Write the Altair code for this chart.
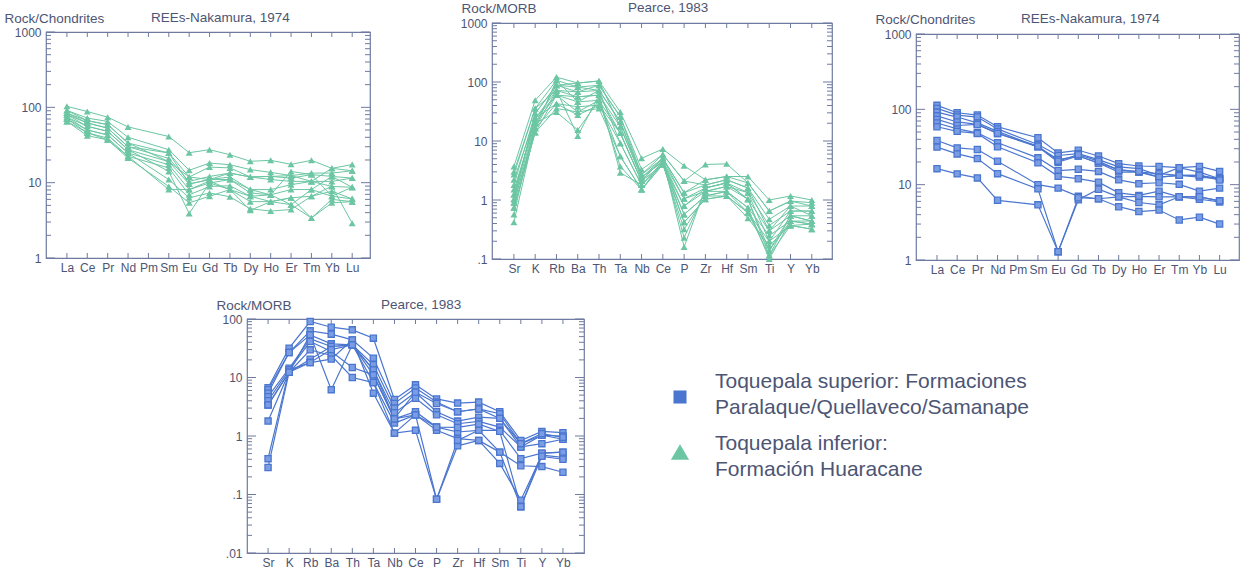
import altair as alt
import pandas as pd

FONT = "Liberation Sans"
TEXT = "#4d5574"
FRAME = "#6f7aa0"
GREEN = "#6cc6a3"
BLUE = "#4b76cf"
BLUE_FILL = "#7b9de3"

# element orders on the two kinds of spider diagram
REE = ["La", "Ce", "Pr", "Nd", "Pm", "Sm", "Eu", "Gd", "Tb", "Dy", "Ho", "Er", "Tm", "Yb", "Lu"]
REE_MEASURED = ["La", "Ce", "Pr", "Nd", "Sm", "Eu", "Gd", "Tb", "Dy", "Ho", "Er", "Tm", "Yb", "Lu"]
MORB = ["Sr", "K", "Rb", "Ba", "Th", "Ta", "Nb", "Ce", "P", "Zr", "Hf", "Sm", "Ti", "Y", "Yb"]

# Formacion Huaracane, rock / chondrite (Nakamura, 1974)
huaracane_ree = [
    [103, 88, 74, 55, 41, 25, 27.4, 23.5, 19.2, 19.8, 17.5, 19.8, 15.5, 17.4],
    [91, 72, 65, 40, 27.4, 14.6, 18.2, 17.3, 14.9, 13.7, 12.4, 13.4, 13.4, 14.4],
    [84, 66.5, 59, 33.6, 24.8, 11.9, 16.1, 15.7, 11.9, 12.1, 11.5, 12.8, 12.1, 11.5],
    [80, 62, 53, 30, 21, 10.4, 12.1, 13.4, 11.9, 11, 10.4, 10.4, 10.4, 11.5],
    [74, 56, 48, 27.4, 19, 9.6, 11, 11.9, 8.1, 8.1, 9.4, 10.4, 8.9, 8.7],
    [70, 50, 43, 24.8, 17.3, 8.1, 9.9, 11, 7.3, 6.9, 8.1, 8.1, 12.1, 8.7],
    [65, 46, 39, 22.4, 15.7, 6.9, 8.9, 9.1, 6.6, 5.6, 6.3, 6.6, 7.7, 6.1],
    [80, 56, 48, 27.4, 14.1, 3.9, 9.9, 8.1, 5.6, 5.6, 5.1, 3.4, 6.0, 5.6],
    [74, 50, 43, 24.8, 11, 6.3, 7.3, 6.5, 4.5, 4.2, 4.4, 6.6, 9.0, 2.9],
    [65, 42, 37, 21.2, 8.9, 5.4, 6.6, 8.1, 4.3, 5.6, 6.3, 3.4, 5.4, 5.6],
    [70, 46, 37, 22.4, 8.1, 8.1, 10.5, 8.1, 6.6, 6.9, 5.1, 8.1, 6.6, 6.1],
    [84, 62, 53, 30, 24.8, 9.6, 11, 11, 8.1, 6.9, 14.1, 12.8, 6.6, 8.7],
    [91, 66.5, 59, 33.6, 19, 11.9, 11, 13.4, 11.9, 12.1, 12.4, 10.4, 15.5, 14.4],
]

# Formacion Huaracane, rock / MORB (Pearce, 1983)
huaracane_morb = [
    [3.7, 49, 121, 96, 104, 31, 5.1, 7.3, 3.8, 2.2, 2.5, 2.5, 1.0, 1.17, 1.0],
    [2.7, 35.6, 107, 82, 88, 25.8, 3.3, 5.9, 2.1, 4.0, 4.1, 1.95, 0.65, 0.96, 0.90],
    [1.8, 29.4, 88, 68, 72, 21.3, 2.7, 5.1, 1.33, 1.8, 2.2, 1.6, 0.47, 0.79, 0.79],
    [1.24, 24.2, 72, 56, 60, 17.5, 2.4, 4.5, 1.05, 1.6, 1.95, 1.33, 0.37, 0.65, 0.65],
    [1.03, 20, 60, 46, 49, 13.6, 2.1, 4.0, 0.79, 1.4, 1.7, 1.03, 0.30, 0.54, 0.54],
    [0.90, 16.4, 43, 38, 40.6, 9.2, 1.8, 4.5, 0.57, 1.17, 1.4, 0.74, 0.25, 0.44, 0.44],
    [0.74, 13.9, 35.6, 31, 35.6, 5.5, 1.5, 4.0, 0.42, 1.03, 1.17, 0.61, 0.20, 0.37, 0.39],
    [0.57, 20, 31, 15.4, 49, 3.7, 1.5, 4.0, 0.32, 1.17, 1.17, 0.49, 0.17, 0.37, 0.32],
    [0.42, 16.4, 72, 12.2, 60, 2.9, 1.8, 4.5, 0.23, 1.4, 1.4, 0.61, 0.14, 0.44, 0.39],
    [1.03, 29.4, 88, 82, 72, 21.3, 2.4, 5.1, 0.16, 1.6, 1.95, 1.03, 0.115, 0.54, 0.44],
    [3.0, 35.6, 72, 68, 88, 25.8, 2.7, 5.9, 2.1, 1.8, 2.2, 1.6, 0.30, 0.79, 0.54],
    [2.2, 24.2, 60, 56, 60, 13.6, 2.1, 5.1, 1.05, 1.4, 1.7, 1.33, 0.20, 0.65, 0.65],
    [1.5, 20, 88, 96, 104, 17.5, 2.4, 4.5, 0.79, 1.6, 1.95, 1.03, 0.14, 0.54, 0.44],
    [0.90, 16.4, 107, 46, 72, 9.2, 1.8, 4.0, 0.57, 1.17, 1.4, 0.74, 0.10, 0.44, 0.39],
    [0.74, 13.9, 60, 31, 49, 5.5, 1.5, 4.5, 0.42, 1.03, 1.17, 0.61, 0.115, 0.37, 0.32],
    [1.24, 24.2, 43, 27.5, 40.6, 13.6, 2.1, 5.1, 1.33, 2.2, 2.5, 1.95, 0.65, 0.96, 0.79],
]

# Formaciones Paralaque / Quellaveco / Samanape, rock / chondrite
superior_ree = [
    [113, 90, 84, 58.7, 41.9, 26.4, 28.6, 24, 19, 17.7, 17.5, 16.8, 17.5, 15],
    [103, 84, 79, 55, 34.1, 24.4, 25.8, 21.5, 17.2, 16.3, 13.3, 16.8, 14.7, 12],
    [92, 79, 66, 51, 31.8, 21.5, 24, 19.4, 16, 14.7, 14, 13.3, 13.3, 12],
    [82, 68, 63, 47.9, 31.8, 19.9, 24, 19.4, 14.7, 14.7, 12.6, 13.3, 12.6, 12],
    [73.6, 61, 63, 47.9, 32.5, 20.5, 25, 20.5, 15.5, 15, 12.6, 13.3, 13.3, 11.5],
    [65.8, 55, 48.8, 36, 22.7, 15.4, 16, 15, 11.6, 10.3, 10.6, 10.1, 8.2, 9.0],
    [58.7, 51, 47.9, 31.8, 19.5, 12.9, 12, 10.8, 7.8, 7.2, 8.2, 6.9, 6.9, 6.1],
    [38.6, 30.8, 29.3, 20.5, 10, 9.0, 7.0, 6.5, 6.9, 7.0, 6.9, 6.9, 6.4, 5.9],
    [31.5, 25.6, 22.2, 14, 8.8, 1.29, 6.3, 8.7, 6.9, 5.8, 5.4, 6.9, 6.9, 6.1],
    [16.3, 13.9, 12.3, 6.2, 5.4, 1.29, 6.7, 6.5, 5.1, 4.4, 4.6, 3.4, 3.7, 3.0],
]

# Formaciones Paralaque / Quellaveco / Samanape, rock / MORB
superior_morb = [
    [6.7, 31.7, 90.6, 72.4, 65.3, 47, 4.2, 7.5, 4.3, 3.65, 3.8, 2.6, 0.84, 1.2, 1.14],
    [6.2, 26.7, 62.8, 55, 44, 21.4, 3.6, 6.6, 3.8, 2.6, 2.9, 2.4, 0.74, 1.03, 1.0],
    [5.4, 26.7, 53.6, 37.6, 36.2, 16.5, 3.0, 5.6, 2.6, 1.8, 2.1, 2.0, 0.65, 1.03, 0.88],
    [4.7, 14.4, 45.8, 33.9, 36.2, 13.5, 2.5, 4.4, 2.3, 1.62, 1.78, 1.42, 0.65, 0.74, 0.88],
    [4.0, 13.5, 41.2, 27.8, 14.8, 11.1, 1.96, 2.6, 1.42, 1.17, 1.25, 1.25, 0.41, 0.51, 0.53],
    [3.4, 12.3, 29.7, 23.8, 10, 8.2, 1.66, 2.3, 1.25, 0.9, 0.84, 0.53, 0.31, 0.30, 0.24],
    [1.8, 12.3, 20.6, 33.9, 36.2, 8.2, 1.12, 2.3, 0.083, 0.68, 0.84, 0.34, 0.08, 0.47, 0.43],
    [0.41, 13.5, 18, 20.6, 44, 5.4, 1.12, 1.25, 0.083, 0.84, 1.25, 0.53, 0.062, 0.51, 0.53],
    [3.4, 12.3, 53.6, 6.2, 36.2, 13.5, 2.0, 5.6, 3.6, 2.6, 2.9, 2.0, 0.74, 1.1, 0.95],
    [0.29, 12.3, 18, 30, 36.2, 11.1, 1.96, 2.3, 1.42, 1.4, 1.6, 1.2, 0.062, 0.45, 0.40],
]

LEGEND_ENTRIES = ["superior", "inferior"]
LEGEND_TEXT = [
    "Toquepala superior: Formaciones\nParalaque/Quellaveco/Samanape",
    "Toquepala inferior:\nFormación Huaracane",
]


def to_long(elements, series):
    rows = []
    for s, values in enumerate(series):
        for i, (el, v) in enumerate(zip(elements, values)):
            rows.append({"sample": s, "el": el, "v": v, "idx": i})
    return pd.DataFrame(rows)


def decades(lo, hi):
    return [10.0 ** e for e in range(lo, hi + 1)]


def minors(lo, hi):
    return [k * 10.0 ** e for e in range(lo, hi) for k in range(2, 10)]


LABEL_EXPR = "datum.value < 1 ? slice(toString(datum.value), 1) : toString(datum.value)"


def panel(series, measured, elements, lo, hi, w, h, pad, align, points_mark,
          line_color, line_width, ylabel, ylabel_dx, ref, ref_dx, head_dy):
    df = to_long(measured, series)
    xenc = alt.X(
        "el:N", sort=elements,
        scale=alt.Scale(type="point", domain=elements, padding=pad, align=align),
        axis=alt.Axis(title=None, labelAngle=0, labelPadding=4, ticks=False,
                      domain=False, grid=False, labelFontSize=12),
    )
    yenc = alt.Y(
        "v:Q",
        scale=alt.Scale(type="log", domain=[10.0 ** lo, 10.0 ** hi], nice=False),
        axis=alt.Axis(values=decades(lo, hi), labelExpr=LABEL_EXPR, ticks=False,
                      domain=False, grid=False, labelPadding=5, labelFontSize=12,
                      title=ylabel, titleAngle=0, titleAlign="left",
                      titleBaseline="middle", titleX=ylabel_dx, titleY=-head_dy),
    )
    cats = pd.DataFrame({"el": elements})
    majors = pd.DataFrame({"v": decades(lo, hi)})
    minor_df = pd.DataFrame({"v": minors(lo, hi)})
    rule = dict(color=FRAME, strokeWidth=1)

    # inward-pointing ticks on all four sides of the frame
    top_ticks = alt.Chart(cats).mark_rule(**rule).encode(
        x=xenc, y=alt.value(0), y2=alt.value(5))
    bottom_ticks = alt.Chart(cats).mark_rule(**rule).encode(
        x=xenc, y=alt.value(h), y2=alt.value(h - 5))
    left_major = alt.Chart(majors).mark_rule(**rule).encode(
        y=yenc, x=alt.value(0), x2=alt.value(9))
    left_minor = alt.Chart(minor_df).mark_rule(**rule).encode(
        y=yenc, x=alt.value(0), x2=alt.value(5))
    right_major = alt.Chart(majors).mark_rule(**rule).encode(
        y=yenc, x=alt.value(w - 9), x2=alt.value(w))
    right_minor = alt.Chart(minor_df).mark_rule(**rule).encode(
        y=yenc, x=alt.value(w - 5), x2=alt.value(w))

    lines = alt.Chart(df).mark_line(color=line_color, strokeWidth=line_width).encode(
        x=xenc, y=yenc, detail="sample:N", order="idx:Q")
    pts = alt.Chart(df).mark_point(**points_mark).encode(x=xenc, y=yenc)

    head = alt.Chart(pd.DataFrame({"t": [ref]})).mark_text(
        align="left", baseline="middle", font=FONT, fontSize=13.5, color=TEXT
    ).encode(x=alt.value(ref_dx), y=alt.value(-head_dy), text="t:N")

    return alt.layer(
        top_ticks, bottom_ticks, left_major, left_minor, right_major, right_minor,
        lines, pts, head,
    ).properties(width=w, height=h,
                 view=alt.ViewBackground(stroke=FRAME, strokeWidth=1.2))


def spacer(w, h):
    return alt.Chart(pd.DataFrame({"s": [0]})).mark_point(opacity=0).encode(
        x=alt.X("s:Q", axis=None), y=alt.Y("s:Q", axis=None)
    ).properties(width=w, height=h)


def lowered(chart, dy):
    return alt.vconcat(spacer(1, dy), chart, spacing=0, bounds="flush")


triangles = dict(shape="triangle-up", filled=True, opacity=1, size=48, color=GREEN)
squares = dict(shape="square", filled=True, opacity=1, size=38, fill=BLUE_FILL,
               stroke=BLUE, strokeWidth=1.3)

p1 = panel(huaracane_ree, REE_MEASURED, REE, 0, 3, 324, 226, 0.95, 0.54, triangles,
           GREEN, 1, "Rock/Chondrites", -42, "REEs-Nakamura, 1974", 105, 14)
p2 = panel(huaracane_morb, MORB, MORB, -1, 3, 340, 236, 0.99, 0.52, triangles,
           GREEN, 1, "Rock/MORB", -31, "Pearce, 1983", 136, 15)
p3 = panel(superior_ree, REE_MEASURED, REE, 0, 3, 323, 226, 1.02, 0.52, squares,
           BLUE, 1.2, "Rock/Chondrites", -41, "REEs-Nakamura, 1974", 105, 15)
p4 = panel(superior_morb, MORB, MORB, -2, 2, 337, 234, 1.0, 0.5, squares,
           BLUE, 1.2, "Rock/MORB", -31, "Pearce, 1983", 134, 14)

# legend drawn as its own small view; the y of each label is its first line
legend_df = pd.DataFrame({"entry": LEGEND_ENTRIES, "label": LEGEND_TEXT})
symbols = alt.Chart(legend_df).mark_point(filled=True, opacity=1).encode(
    x=alt.value(96),
    y=alt.Y("entry:N", scale=alt.Scale(domain=LEGEND_ENTRIES, range=[78, 133], padding=0), axis=None),
    shape=alt.Shape("entry:N", scale=alt.Scale(domain=LEGEND_ENTRIES, range=["square", "triangle-up"]), legend=None),
    color=alt.Color("entry:N", scale=alt.Scale(domain=LEGEND_ENTRIES, range=[BLUE, GREEN]), legend=None),
    size=alt.Size("entry:O", scale=alt.Scale(domain=LEGEND_ENTRIES, range=[170, 330]), legend=None),
)
labels = alt.Chart(legend_df).mark_text(
    align="left", baseline="middle", font=FONT, fontSize=21, lineHeight=26,
    lineBreak="\n", color=TEXT,
).encode(
    x=alt.value(131),
    y=alt.Y("entry:N", scale=alt.Scale(domain=LEGEND_ENTRIES, range=[63, 125], padding=0), axis=None),
    text="label:N",
)
legend = alt.layer(symbols, labels).resolve_scale(y="independent").properties(
    width=460, height=234)

# top row: the two outer panels sit a little lower than the middle one
top_row = alt.hconcat(
    lowered(p1, 9), spacer(446, 1), p2, spacer(84, 1), lowered(p3, 11),
    spacing=0, bounds="flush",
)
bottom_row = alt.hconcat(spacer(201, 1), p4, legend, spacing=0, bounds="flush")

chart = alt.vconcat(
    top_row, spacer(1, 296), bottom_row, spacing=0, bounds="flush"
).properties(
    padding={"left": 3, "top": 0, "right": 3, "bottom": 0}
).configure_view(
    stroke="transparent"
).configure_axis(
    labelFont=FONT, titleFont=FONT, labelColor=TEXT, titleColor=TEXT,
    titleFontSize=13.5, titleFontWeight="normal",
)

chart.save("out.html", embed_options={"renderer": "svg", "actions": False})
